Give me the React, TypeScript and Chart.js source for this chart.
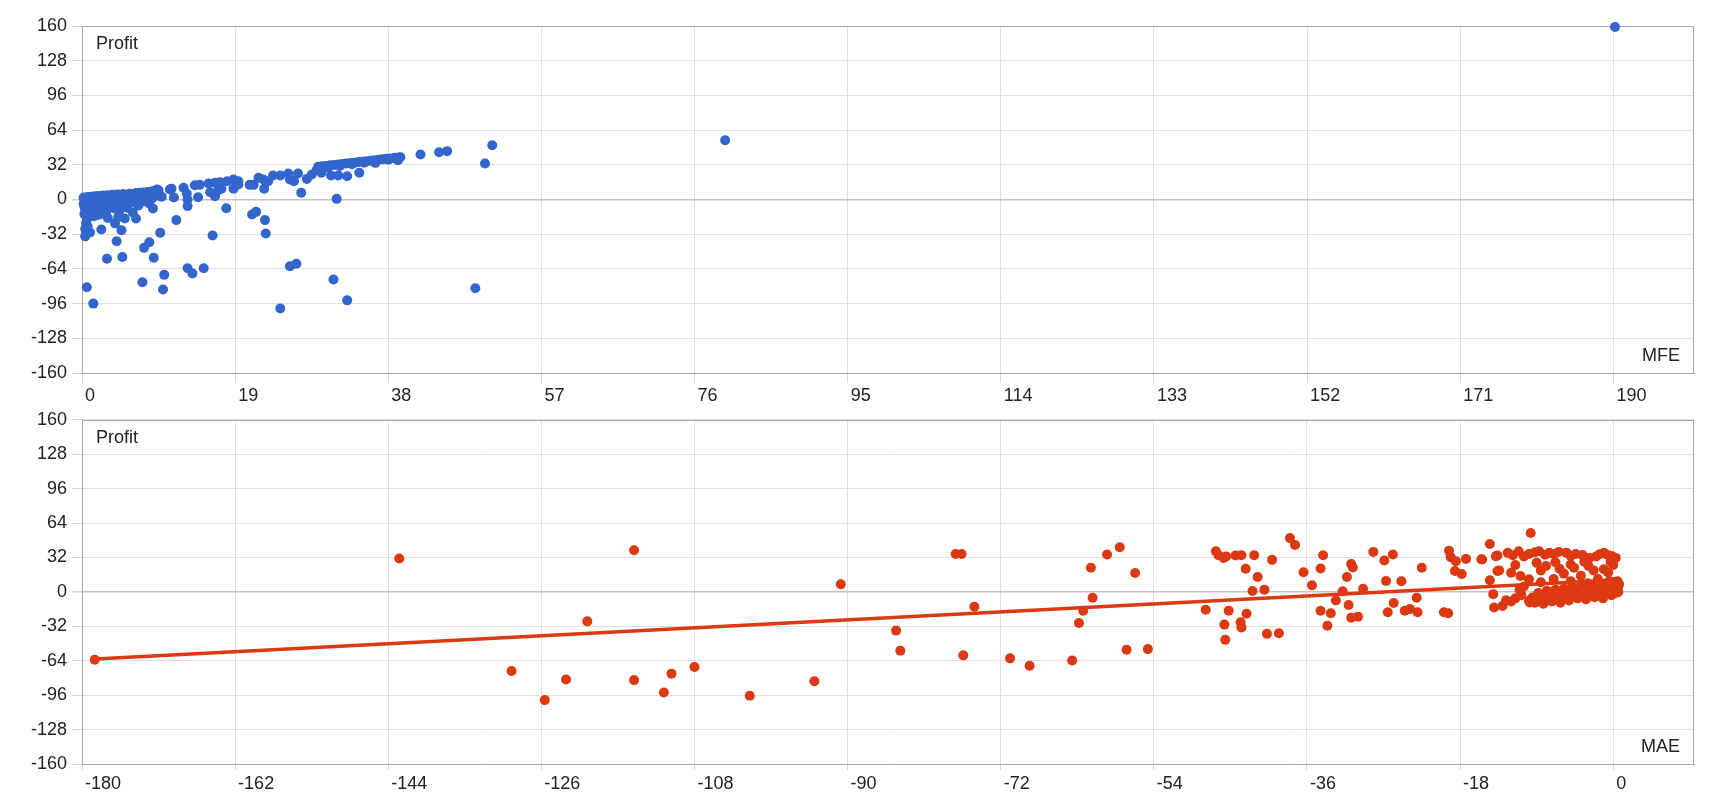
import React, { useEffect, useRef } from 'react';
import { Chart, registerables } from 'chart.js';

Chart.register(...registerables);

Chart.defaults.font.family = '"Liberation Sans", Arial, sans-serif';
Chart.defaults.font.size = 18;
Chart.defaults.color = '#222';

// axis ticks
const profitTicks = [-160, -128, -96, -64, -32, 0, 32, 64, 96, 128, 160];
const mfeTicks = [0, 19, 38, 57, 76, 95, 114, 133, 152, 171, 190];
const maeTicks = [-180, -162, -144, -126, -108, -90, -72, -54, -36, -18, 0];
const mfeRange = [0, 200];
const maeRange = [-180, 9.5];

// [MFE, Profit]
const mfePoints: [number, number][] = [
  // cluster near zero
  [0.2, 1.5], [0.3, 0.2], [0.4, -1.2], [0.5, 2], [0.6, 0.8], [0.7, -2.5], [0.9, 2.4], [1.1, 1.2],
  [1.3, 2.8], [1.5, 0.4], [1.7, 3], [1.9, 1.6], [2.1, 3.3], [2.3, 0.9], [2.6, 3.6], [2.9, 2],
  [3.2, 4], [3.5, 2.6], [3.8, 4.3], [4.1, 3], [4.4, 4.7], [4.8, 3.4], [5.1, 5], [5.5, 3.9],
  [5.9, 5.4], [6.3, 4.3], [6.7, 5.9], [7.1, 6.2], [7.6, 6.4], [8.1, 6.9], [8.6, 7.3], [9.1, 7.8],
  [9.5, 8.4], [9.3, 9.2], [8.9, 7.7], [9.7, 3], [9.9, 2.5], [10.9, 9.2], [11.1, 9.9], [11.4, 1.8],
  [12.6, 10.8], [13, 5.5], [13.1, 0], [13.1, -6.1],
  [0.2, -4], [0.3, -6.5], [0.4, -9], [0.5, -11.5], [0.3, -13.5], [0.7, -5.5], [0.9, -8], [1.1, -3.5],
  [1.2, -10], [1.4, -6], [1.6, -2], [1.8, -8.5], [2, -4.5], [2.2, -12], [2.4, -1], [2.6, -7],
  [2.9, -3], [3.1, -10], [3.4, -5], [3.7, -1.5], [4, -8], [4.3, -3], [4.6, -11], [4.9, -5.5],
  [5.2, -1.5], [5.6, -7.5], [5.9, -3], [6.3, -12], [6.6, -1], [7, -5.5], [7.4, -2], [7.9, -0.5],
  [8.3, -3.5], [8.7, 1], [6.8, 4.6], [7.2, 6], [6.9, -4.6], [8.8, -8.3], [5.3, -17.5], [6.7, -17.5],
  [3.2, -17], [4.1, -22], [4.5, -16], [2.1, -14], [1.5, -15.5],
  // left column
  [0.6, -18.5], [0.5, -22], [0.8, -16], [0.4, -27], [0.5, -31], [0.4, -34], [1, -30.5], [0.7, -25],
  [0.6, -81], [1.4, -96],
  // scattered losses
  [2.4, -27.7], [3.1, -54.6], [4.3, -38.5], [5, -53], [4.9, -28.3], [7.5, -76.3], [7.7, -44.6],
  [8.35, -39.4], [8.9, -53.8], [10.2, -69.5], [10.05, -83], [9.7, -30.7], [11.7, -19], [13.1, -63.4],
  [13.7, -68.3], [15.1, -63.4], [16.2, -33.2], [17.9, -8], [21.1, -13.8], [21.6, -11.4], [22.7, -19],
  [22.8, -31.4], [25.8, -61.5], [26.6, -59.3], [24.6, -100.5], [31.2, -73.8], [32.9, -93], [31.6, 0.6],
  [27.2, 6.2], [48.8, -81.8],
  // middle band
  [14, 13.2], [14.6, 13.5], [15.7, 14.8], [16.5, 15.4], [17.1, 16], [18, 16.9], [18.8, 18.5],
  [19.4, 16.9], [18.8, 9.9], [19.4, 13.8], [14.4, 2.1], [15.9, 6.7], [16.5, 3], [16.9, 8.6], [17.3, 9.9],
  [20.8, 13.5], [21.3, 13.5], [21.9, 20], [22.5, 18.5], [23.1, 16.9], [23.7, 22.1], [24.6, 22.1],
  [25.6, 24], [25.8, 18.5], [26.3, 16.9], [26.8, 24], [22.6, 9.9], [27.9, 19], [28.5, 23], [29.1, 27],
  [29.4, 29.2], [29.7, 24.6], [30.9, 22.1], [31.8, 22.1], [32.9, 21.5], [34.4, 24.6], [36.4, 33.8],
  [39.2, 36.3],
  // diagonal
  [29.3, 30.2], [29.8, 30.6], [30.3, 31], [30.8, 31.5], [31.3, 31.9], [31.8, 32.3], [32.3, 32.8],
  [32.8, 33.2], [33.3, 33.6], [33.8, 34], [34.3, 34.5], [34.8, 34.9], [35.3, 35.3], [35.8, 35.8],
  [36.3, 36.2], [36.8, 36.6], [37.3, 37.1], [37.8, 37.5], [38.3, 37.9], [38.8, 38.4], [39.3, 38.8],
  [39.5, 39], [30.5, 29.6], [32, 31], [33.5, 32.5], [35, 34], [36.5, 35.2], [38, 36.8], [39, 37.5],
  // far
  [42, 41.5], [44.3, 43.6], [45.3, 44.6], [50, 33.2], [50.9, 50.1], [79.8, 54.7], [190.2, 159],
];

// [MAE, Profit]
const maePoints: [number, number][] = [
  [-178.5, -63], [-142.7, 31], [-129.5, -73.5], [-125.6, -100.6], [-123.1, -81.5], [-120.6, -27.4],
  [-115.1, 38.7], [-115.1, -82], [-111.6, -93.5], [-110.7, -76], [-108, -69.8], [-101.5, -96.6],
  [-93.9, -83], [-90.8, 7.1], [-84.3, -36], [-83.8, -54.7], [-77.3, 35.3], [-76.6, 35.3], [-75.1, -13.8],
  [-76.4, -59], [-70.9, -61.8], [-68.6, -68.6], [-63.6, -63.7], [-62.8, -28.9], [-62.3, -17.5],
  [-61.2, -5.5], [-61.4, 22.4], [-59.5, 34.8], [-58, 41.5], [-56.2, 17.5], [-57.2, -53.8], [-54.7, -53.2],
  // -48 .. -14
  [-47.9, -16.6], [-46.7, 37.8], [-46.4, 34], [-45.8, 31.6], [-45.5, 33], [-44.4, 33.9], [-43.7, 34.1],
  [-42.2, 34.1], [-43.2, 21.5], [-41.8, 13.8], [-42.4, 0.9], [-41, 2.1], [-45.2, -17.5], [-45.7, -30.4],
  [-45.6, -44.6], [-43.8, -28.3], [-43.7, -33], [-43.1, -20.3], [-40.7, -39], [-39.3, -38.5],
  [-40.1, 29.8], [-38, 50], [-37.4, 43.6], [-36.4, 18.3], [-35.4, 6.1], [-34.1, 34], [-34.4, 21.7],
  [-34.4, -17.5], [-33.2, -19.8], [-33.6, -31.4], [-32.6, -8], [-31.8, 0.5], [-31.3, 13.8], [-30.8, 26],
  [-30.6, 22.7], [-31.1, -12.2], [-30.8, -24], [-30, -23], [-29.4, 2.9], [-28.2, 37.2], [-26.9, 29.2],
  [-25.9, 34.8], [-26.7, 10.1], [-24.9, 9.9], [-25.8, -10.4], [-26.5, -19], [-24.5, -17.5], [-23.9, -16],
  [-23, -19], [-23.1, -5.4], [-22.5, 22.4], [-19.9, -19], [-19.4, -19.8], [-19.3, 38.3], [-19.1, 32.3],
  [-18.5, 28.6], [-18.6, 19.4], [-17.8, 16.6], [-17.3, 30.7], [-15.5, 30.4], [-14.5, 44.6], [-13.8, 33.2],
  [-13.6, 19.4], [-14.5, 10.8], [-14.1, -2.1], [-14, -14.5], [-13, -13], [-12.6, -7.7], [-13.4, 20],
  [-15.4, 30.2], [-9.7, 54.7],
  // top band near zero
  [-13.6, 33.9], [-12.4, 36.3], [-11.1, 37.8], [-9.9, 35.3], [-8.7, 37.8], [-7.5, 36.3], [-6.4, 37.2],
  [-4.4, 35.3], [-2.8, 31.6], [-0.9, 35.3], [-0.1, 33.2], [0.3, 31.6], [-1.1, 36.3], [-11.8, 34],
  [-10.5, 33], [-9.2, 36.8], [-8, 34.5], [-7, 35.2], [-5.5, 36.5], [-5, 33.5], [-3.6, 34.2], [-2, 33],
  [-1.6, 35], [-0.5, 33.8], [0.1, 30.5], [-0.3, 28],
  // middle near zero
  [-12, 17.8], [-10.9, 14.8], [-9.9, 11.7], [-7.9, 24], [-6.3, 21.5], [-4.6, 22.4], [-3.4, 28], [-2.3, 20],
  [-1.1, 21], [-11.5, 25], [-9, 27], [-8.5, 20], [-6.8, 27.5], [-5.8, 17], [-5, 25.5], [-3.8, 15],
  [-2.9, 24], [-1.8, 12], [-0.6, 18], [0, 25], [-0.4, 10], [-7, 12], [-5, 10], [-3, 8], [-8.5, 9],
  [-10.5, 5],
  // dense band near zero
  [-9.9, -8.3], [-9.5, -5.2], [-9, -9], [-8.5, -3], [-8, -7], [-7.5, -2], [-7, -6], [-6.5, -1], [-6, -5],
  [-5.5, 0], [-5, -4], [-4.5, 1], [-4, -3], [-3.5, 2], [-3, -2], [-2.5, 3], [-2, -1], [-1.5, 4], [-1, 0],
  [-0.5, 5], [0, 1], [0.4, 6], [0.5, 3], [0.7, 7], [-9.8, -9.8], [-8.8, -1], [-7.8, 1], [-6.8, 2],
  [-5.8, 3], [-4.8, 4], [-3.8, 5], [-2.8, 6], [-1.8, 7], [-0.8, 8], [0.2, 9], [0.5, 10], [-6.2, -7],
  [-4.2, -6], [-2.2, -5], [-0.2, -3], [-1.2, -6], [-3.2, -7], [-5.2, -8], [-7.2, -9], [-9.2, -10],
  [-8.2, -11], [-6.2, -10], [0.3, -1], [0.6, 0], [-10.8, -3], [-11.5, -6], [-12, -9], [-11, 2],
];

// trendline ends as drawn in the picture
const maeTrend: [number, number][] = [[-178.5, -62.3], [0.7, 11.3]];

const GRID = '#e0e0e0';
const ZERO = '#c4c4c4';
const FRAME = '#a8a8a8';

const panelPlugin = {
  id: 'panel',
  beforeDatasetsDraw(chart: any) {
    const { ctx, chartArea: a } = chart;
    ctx.save();
    ctx.strokeStyle = FRAME;
    ctx.lineWidth = 1;
    ctx.beginPath();
    ctx.moveTo(a.left, Math.round(a.top) + 0.5);
    ctx.lineTo(a.right, Math.round(a.top) + 0.5);
    ctx.moveTo(Math.round(a.right) - 0.5, a.top);
    ctx.lineTo(Math.round(a.right) - 0.5, a.bottom);
    ctx.stroke();
    ctx.restore();
  },
  afterDraw(chart: any, _args: any, opts: any) {
    const { ctx, chartArea: a } = chart;
    ctx.save();
    ctx.fillStyle = '#222';
    ctx.font = '18px "Liberation Sans", Arial, sans-serif';
    ctx.textBaseline = 'middle';
    ctx.textAlign = 'left';
    ctx.fillText('Profit', a.left + 14, a.top + 18);
    ctx.textAlign = 'right';
    ctx.fillText(opts.xTitle, a.right - 14, a.bottom - 17);
    ctx.restore();
  },
};

interface PanelProps {
  points: [number, number][];
  trend?: [number, number][];
  color: string;
  xTicks: number[];
  xRange: number[];
  xTitle: string;
  height: number;
  top: number;
  padTop: number;
  axisHeight: number;
  tickLength: number;
  tickPadding: number;
}

const Panel: React.FC<PanelProps> = (p) => {
  const chartRef = useRef<HTMLCanvasElement>(null);
  const chartInstance = useRef<Chart>();

  useEffect(() => {
    if (!chartRef.current) return;
    const datasets: any[] = [
      {
        data: p.points.map(([x, y]) => ({ x, y })),
        backgroundColor: p.color,
        borderWidth: 0,
        pointRadius: 5,
        clip: false,
      },
    ];
    if (p.trend) {
      datasets.push({
        data: p.trend.map(([x, y]) => ({ x, y })),
        showLine: true,
        borderColor: p.color,
        borderWidth: 3.5,
        pointRadius: 0,
        clip: false,
      });
    }
    chartInstance.current = new Chart(chartRef.current, {
      type: 'scatter',
      data: { datasets },
      plugins: [panelPlugin],
      options: {
        animation: false,
        responsive: false,
        events: [],
        layout: { padding: { top: p.padTop, right: 26, left: 0, bottom: 0 } },
        plugins: {
          legend: { display: false },
          tooltip: { enabled: false },
          panel: { xTitle: p.xTitle },
        } as any,
        scales: {
          x: {
            type: 'linear',
            min: p.xRange[0],
            max: p.xRange[1],
            afterBuildTicks: (s: any) => {
              s.ticks = p.xTicks.map((value) => ({ value }));
            },
            afterFit: (s: any) => {
              s.height = p.axisHeight;
            },
            grid: { color: GRID, tickColor: '#d4d4d4', tickLength: p.tickLength },
            border: { color: FRAME },
            ticks: {
              align: 'start',
              labelOffset: 3,
              padding: p.tickPadding,
              maxRotation: 0,
              autoSkip: false,
              color: '#222',
              callback: (v: any) => String(v),
            },
          },
          y: {
            type: 'linear',
            min: -160,
            max: 160,
            afterBuildTicks: (s: any) => {
              s.ticks = profitTicks.map((value) => ({ value }));
            },
            afterFit: (s: any) => {
              s.width = 82;
            },
            grid: {
              color: (c: any) => (c.tick && c.tick.value === 0 ? ZERO : GRID),
              lineWidth: (c: any) => (c.tick && c.tick.value === 0 ? 1.5 : 1),
              tickColor: '#d4d4d4',
              tickLength: 10,
            },
            border: { color: FRAME },
            ticks: { padding: 5, color: '#222', autoSkip: false, callback: (v: any) => String(v) },
          },
        },
      } as any,
    });

    return () => {
      if (chartInstance.current) {
        chartInstance.current.destroy();
      }
    };
  }, []);

  return (
    <canvas
      ref={chartRef}
      width={1720}
      height={p.height}
      style={{ position: 'absolute', left: 0, top: p.top, width: 1720, height: p.height }}
    />
  );
};

const App: React.FC = () => (
  <div style={{ position: 'fixed', left: 0, top: 0, width: 1720, height: 800, background: '#fff' }}>
    <Panel
      points={mfePoints}
      color="#3366cc"
      xTicks={mfeTicks}
      xRange={mfeRange}
      xTitle="MFE"
      height={404}
      top={0}
      padTop={26}
      axisHeight={31}
      tickLength={10}
      tickPadding={2}
    />
    <Panel
      points={maePoints}
      trend={maeTrend}
      color="#dc3912"
      xTicks={maeTicks}
      xRange={maeRange}
      xTitle="MAE"
      height={396}
      top={404}
      padTop={13}
      axisHeight={36}
      tickLength={6}
      tickPadding={3}
    />
  </div>
);

export default App;
